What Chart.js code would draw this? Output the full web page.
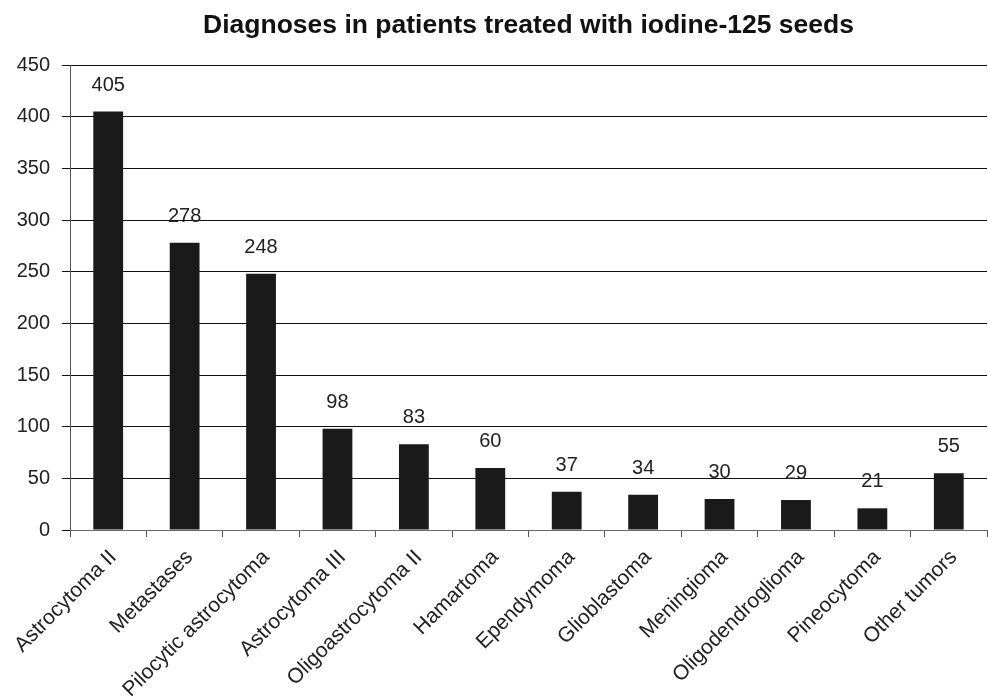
<!DOCTYPE html>
<html>
<head>
<meta charset="utf-8">
<script src="https://cdn.jsdelivr.net/npm/chart.js@4"></script>
<style>
  html, body { margin: 0; padding: 0; background: #fff; }
  #wrap { width: 988px; height: 699px; }
</style>
</head>
<body>
<div id="wrap"><canvas id="diagChart"></canvas></div>
<script>
// Diagnosis categories and patient counts
const diagnoses = [
  'Astrocytoma II', 'Metastases', 'Pilocytic astrocytoma', 'Astrocytoma III',
  'Oligoastrocytoma II', 'Hamartoma', 'Ependymoma', 'Glioblastoma',
  'Meningioma', 'Oligodendroglioma', 'Pineocytoma', 'Other tumors'
];
const patientCounts = [405, 278, 248, 98, 83, 60, 37, 34, 30, 29, 21, 55];
const yTicks = [0, 50, 100, 150, 200, 250, 300, 350, 400, 450];
const chartTitle = 'Diagnoses in patients treated with iodine-125 seeds';

const fontFamily = '"Liberation Sans", Arial, Helvetica, sans-serif';

// Title centred over the plot area rather than the whole canvas
const plotTitle = {
  id: 'plotTitle',
  afterDraw(chart) {
    const ctx = chart.ctx;
    const area = chart.chartArea;
    ctx.save();
    ctx.font = 'bold 26.5px ' + fontFamily;
    ctx.fillStyle = '#111';
    ctx.textAlign = 'center';
    ctx.textBaseline = 'alphabetic';
    ctx.fillText(chartTitle, (area.left + area.right) / 2, 33);
    ctx.restore();
  }
};

// Number printed above each bar
const valueLabels = {
  id: 'valueLabels',
  afterDatasetsDraw(chart) {
    const ctx = chart.ctx;
    const meta = chart.getDatasetMeta(0);
    ctx.save();
    ctx.font = '20px ' + fontFamily;
    ctx.fillStyle = '#222';
    ctx.textAlign = 'center';
    ctx.textBaseline = 'alphabetic';
    meta.data.forEach((bar, i) => {
      ctx.fillText(String(patientCounts[i]), bar.x, bar.y - 21);
    });
    ctx.restore();
  }
};

const ctx = document.getElementById('diagChart').getContext('2d');
new Chart(ctx, {
  type: 'bar',
  data: {
    labels: diagnoses,
    datasets: [{
      data: patientCounts,
      backgroundColor: '#1a1a1a',
      borderWidth: 0,
      barPercentage: 0.39,
      categoryPercentage: 1
    }]
  },
  options: {
    responsive: true,
    maintainAspectRatio: false,
    animation: false,
    layout: { padding: { top: 65, right: 1, left: 0, bottom: 0 } },
    plugins: {
      legend: { display: false },
      tooltip: { enabled: false },
      title: { display: false }
    },
    scales: {
      x: {
        offset: true,
        grid: {
          display: true,
          offset: true,
          drawOnChartArea: false,
          tickLength: 7,
          color: '#555'
        },
        border: { color: '#666', width: 1 },
        ticks: {
          maxRotation: 45,
          minRotation: 45,
          color: '#222',
          padding: 8,
          labelOffset: 5,
          font: { family: fontFamily, size: 21 }
        },
        afterFit(scale) { scale.height = 169; }
      },
      y: {
        min: 0,
        max: 450,
        afterBuildTicks(scale) {
          scale.ticks = yTicks.map(v => ({ value: v }));
        },
        grid: {
          color: '#111',
          lineWidth: 1,
          tickLength: 8
        },
        border: { color: '#555', width: 1 },
        ticks: {
          color: '#222',
          padding: 12,
          font: { family: fontFamily, size: 20 }
        },
        afterFit(scale) { scale.width = 70; }
      }
    }
  },
  plugins: [plotTitle, valueLabels]
});
</script>
</body>
</html>
